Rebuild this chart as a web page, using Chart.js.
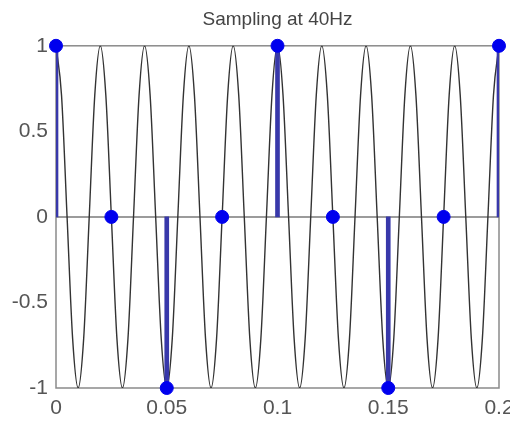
<!DOCTYPE html>
<html>
<head>
<meta charset="utf-8">
<script src="https://cdn.jsdelivr.net/npm/chart.js@4"></script>
<style>
  html, body { margin: 0; padding: 0; background: #fff; }
  #wrap { width: 510px; height: 422px; }
</style>
</head>
<body>
<div id="wrap"><canvas id="chart" width="510" height="422"></canvas></div>
<script>
// 50Hz cosine at 1/8 period steps
const curveT = [
  0, 0.0025, 0.005, 0.0075, 0.01, 0.0125, 0.015, 0.0175,
  0.02, 0.0225, 0.025, 0.0275, 0.03, 0.0325, 0.035, 0.0375,
  0.04, 0.0425, 0.045, 0.0475, 0.05, 0.0525, 0.055, 0.0575,
  0.06, 0.0625, 0.065, 0.0675, 0.07, 0.0725, 0.075, 0.0775,
  0.08, 0.0825, 0.085, 0.0875, 0.09, 0.0925, 0.095, 0.0975,
  0.1, 0.1025, 0.105, 0.1075, 0.11, 0.1125, 0.115, 0.1175,
  0.12, 0.1225, 0.125, 0.1275, 0.13, 0.1325, 0.135, 0.1375,
  0.14, 0.1425, 0.145, 0.1475, 0.15, 0.1525, 0.155, 0.1575,
  0.16, 0.1625, 0.165, 0.1675, 0.17, 0.1725, 0.175, 0.1775,
  0.18, 0.1825, 0.185, 0.1875, 0.19, 0.1925, 0.195, 0.1975,
  0.2
];
const curveV = [
  1, 0.71, 0, -0.71, -1, -0.71, 0, 0.71,
  1, 0.71, 0, -0.71, -1, -0.71, 0, 0.71,
  1, 0.71, 0, -0.71, -1, -0.71, 0, 0.71,
  1, 0.71, 0, -0.71, -1, -0.71, 0, 0.71,
  1, 0.71, 0, -0.71, -1, -0.71, 0, 0.71,
  1, 0.71, 0, -0.71, -1, -0.71, 0, 0.71,
  1, 0.71, 0, -0.71, -1, -0.71, 0, 0.71,
  1, 0.71, 0, -0.71, -1, -0.71, 0, 0.71,
  1, 0.71, 0, -0.71, -1, -0.71, 0, 0.71,
  1, 0.71, 0, -0.71, -1, -0.71, 0, 0.71,
  1
];

// samples taken at 40Hz
const sampleT = [0, 0.025, 0.05, 0.075, 0.1, 0.125, 0.15, 0.175, 0.2];
const sampleV = [1, 0, -1, 0, 1, 0, -1, 0, 1];

const baselineT = [0, 0.2];
const baselineV = [0, 0];

const xTickStep = 0.05;
const yTickStep = 0.5;

const pts = (xs, ys) => xs.map((x, i) => ({ x: x, y: ys[i] }));

// matlab style box round the axes
const boxPlugin = {
  id: "box",
  beforeDatasetsDraw(chart) {
    const a = chart.chartArea;
    const ctx = chart.ctx;
    ctx.save();
    ctx.strokeStyle = "#8a8a8a";
    ctx.lineWidth = 1.5;
    ctx.strokeRect(a.left, a.top, a.right - a.left, a.bottom - a.top);
    ctx.restore();
  }
};

const tickFont = { family: "Arial", size: 21 };
const fmt = (v) => String(Math.round(v * 1000) / 1000);

const ctx = document.getElementById("chart").getContext("2d");
new Chart(ctx, {
  type: "line",
  data: {
    datasets: [
      {
        type: "line",
        data: pts(baselineT, baselineV),
        borderColor: "#7a7a7a",
        borderWidth: 1.5,
        pointRadius: 0,
        order: 4
      },
      {
        type: "line",
        data: pts(curveT, curveV),
        borderColor: "#333333",
        borderWidth: 1.4,
        pointRadius: 0,
        cubicInterpolationMode: "monotone",
        order: 3
      },
      {
        type: "bar",
        data: pts(sampleT, sampleV),
        backgroundColor: "#3838aa",
        barThickness: 4,
        order: 2
      },
      {
        type: "line",
        data: pts(sampleT, sampleV),
        showLine: false,
        pointRadius: 6.5,
        pointBackgroundColor: "#0000ee",
        pointBorderColor: "#0000ee",
        clip: false,
        order: 1
      }
    ]
  },
  options: {
    responsive: false,
    animation: false,
    layout: { padding: { left: 0, right: 11, top: 0, bottom: 0 } },
    plugins: {
      legend: { display: false },
      tooltip: { enabled: false },
      title: {
        display: true,
        fullSize: false,
        text: "Sampling at 40Hz",
        color: "#444",
        font: { family: "Arial", size: 19, weight: "normal", lineHeight: 1.2 },
        padding: { top: 8, bottom: 15 }
      }
    },
    scales: {
      x: {
        type: "linear",
        min: 0,
        max: 0.2,
        offset: false,
        grid: { display: false, drawTicks: false, offset: false },
        border: { display: false },
        ticks: {
          stepSize: xTickStep,
          color: "#555",
          padding: 8,
          maxRotation: 0,
          font: tickFont,
          callback: fmt
        },
        afterFit: (s) => {
          s.height = 34;
          s.paddingLeft = 0;
          s.paddingRight = 0;
        }
      },
      y: {
        min: -1,
        max: 1,
        grid: { display: false, drawTicks: false },
        border: { display: false },
        ticks: {
          stepSize: yTickStep,
          color: "#555",
          padding: 8,
          font: tickFont,
          callback: fmt
        },
        afterFit: (s) => {
          s.width = 56;
          s.paddingTop = 0;
          s.paddingBottom = 0;
        }
      }
    }
  },
  plugins: [boxPlugin]
});
</script>
</body>
</html>
